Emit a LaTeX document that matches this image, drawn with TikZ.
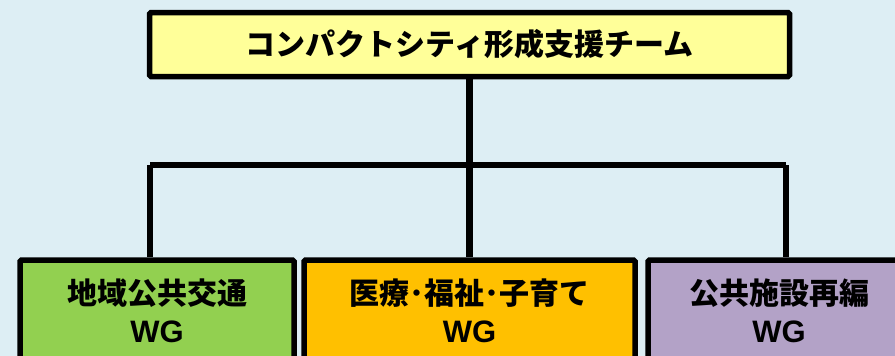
\documentclass[tikz,border=0pt]{standalone}
\usepackage{fontspec}
\newfontfamily\jp{Noto Sans CJK JP}
\newfontfamily\lat{Liberation Sans}
\definecolor{bgblue}{RGB}{221,238,244}
\definecolor{topyellow}{RGB}{255,255,153}
\definecolor{wggreen}{RGB}{146,208,80}
\definecolor{wgorange}{RGB}{255,192,0}
\definecolor{wgpurple}{RGB}{179,162,199}
\newcommand{\wgtext}{{\lat\bfseries\fontsize{31}{38}\selectfont WG}}
\begin{document}
\begin{tikzpicture}[x=1pt,y=-1pt,
  box/.style={draw=black, line width=5.5pt, rounded corners=1.5pt, inner sep=0pt, align=center,
    font={\jp\bfseries\fontsize{30}{38}\selectfont}},
  conn/.style={draw=black, line width=6.5pt}]
\useasboundingbox (0,0) rectangle (895,356);
\fill[bgblue] (0,0) rectangle (895,356);
\clip (0,0) rectangle (895,356);
\node[box, fill=topyellow, minimum width=640pt, minimum height=64pt] (top) at (469.5,44.5) {コンパクトシティ形成支援チーム};
\node[box, fill=wggreen, minimum width=274pt, minimum height=102pt] (g) at (157,311) {地域公共交通\\\wgtext};
\node[box, fill=wgorange, minimum width=331pt, minimum height=102pt] (o) at (469.5,311) {医療･福祉･子育て\\\wgtext};
\node[box, fill=wgpurple, minimum width=262pt, minimum height=102pt] (p) at (779,311) {公共施設再編\\\wgtext};
\coordinate (bus) at (469.5,165);
\coordinate (busL) at (150,165);
\coordinate (busR) at (786,165);
\draw[conn] (top.south) -- (bus);
\draw[conn] (busL) -- (busR);
\draw[conn] (busL) -- (busL |- g.north);
\draw[conn] (bus) -- (o.north);
\draw[conn] (busR) -- (busR |- p.north);
\end{tikzpicture}
\end{document}
